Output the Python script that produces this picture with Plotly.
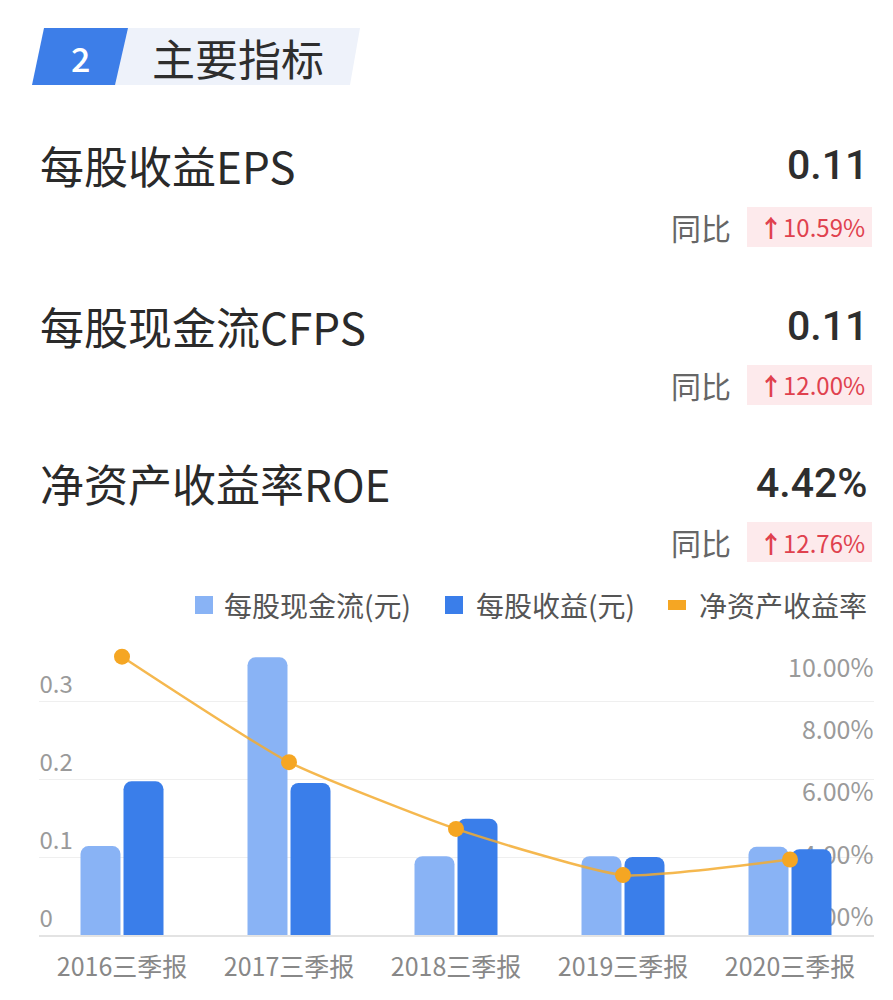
import plotly.graph_objects as go

# ---------------- data ----------------
categories = ['2016三季报', '2017三季报', '2018三季报', '2019三季报', '2020三季报']
cfps = [0.114, 0.356, 0.101, 0.101, 0.113]      # 每股现金流(元)
eps = [0.197, 0.195, 0.149, 0.100, 0.110]       # 每股收益(元)
roe = [10.92, 7.54, 5.40, 3.92, 4.42]           # 净资产收益率 (%)

left_ticks = [0, 0.1, 0.2, 0.3, 0.4]
left_ticktext = ['0', '0.1', '0.2', '0.3', '']
right_ticks = [2, 4, 6, 8, 10]
right_ticktext = ['2.00%', '4.00%', '6.00%', '8.00%', '10.00%']

series_names = ['每股现金流(元)', '每股收益(元)', '净资产收益率']

indicator_names = ['每股收益EPS', '每股现金流CFPS', '净资产收益率ROE']
indicator_values = ['0.11', '0.11', '4.42%']
indicator_yoy = ['10.59%', '12.00%', '12.76%']

section_no = '2'
section_title = '主要指标'

# ---------------- style ----------------
OFF = 8                      # default page body margin
W, H = 893 - 2 * OFF, 1000 - 2 * OFF
FONT = 'Noto Sans CJK SC'
NUMFONT = 'Roboto'
C_LIGHT = '#89B3F5'
C_DARK = '#3A7EEA'
C_ORANGE = '#F5A623'


def px(x):
    return (x - OFF) / W


def py(y):
    return 1 - (y - OFF) / H


fig = go.Figure()

fig.add_trace(go.Bar(
    x=categories, y=cfps, name=series_names[0],
    marker=dict(color=C_LIGHT, cornerradius=8, line=dict(width=0)),
    showlegend=False, yaxis='y'))
fig.add_trace(go.Bar(
    x=categories, y=eps, name=series_names[1],
    marker=dict(color=C_DARK, cornerradius=8, line=dict(width=0)),
    showlegend=False, yaxis='y'))
fig.add_trace(go.Scatter(
    x=categories, y=roe, name=series_names[2], yaxis='y2',
    mode='lines+markers',
    line=dict(color='rgba(243,172,48,0.85)', width=2.5, shape='spline', smoothing=0.5),
    marker=dict(color=C_ORANGE, size=16),
    cliponaxis=False, showlegend=False))

x_dom = [px(38.5), px(873.5)]
y_dom = [py(935), py(623)]

fig.update_layout(
    width=W, height=H,
    margin=dict(l=0, r=0, t=0, b=0),
    paper_bgcolor='white', plot_bgcolor='white',
    font=dict(family=FONT, color='#999999'),
    barmode='group', bargap=0.485, bargroupgap=0.07,
    xaxis=dict(domain=x_dom, type='category', range=[-0.5, 4.5], autorange=False,
               showgrid=False, showline=True, linecolor='#E3E3E3', linewidth=1.5,
               ticks='outside', ticklen=9, tickcolor='rgba(0,0,0,0)',
               tickfont=dict(size=25, color='#888888', family=FONT),
               fixedrange=True),
    # left value axis: labels just right of the left plot edge, above the grid lines
    yaxis=dict(domain=y_dom, range=[0, 0.4], tickvals=left_ticks, ticktext=left_ticktext,
               side='right', anchor='free', position=x_dom[0],
               ticklabelposition='outside top', showgrid=True, gridcolor='#EFEFEF', gridwidth=1.2,
               zeroline=False, showline=False, ticks='',
               tickfont=dict(size=24, color='#9A9A9A', family=FONT),
               layer='below traces'),
    # right percentage axis: labels right-aligned at the right plot edge
    yaxis2=dict(domain=y_dom, range=[2, 12], overlaying='y',
                side='left', anchor='free', position=x_dom[1],
                tickvals=right_ticks, ticktext=right_ticktext,
                ticklabelposition='outside top', showgrid=False, zeroline=False,
                showline=False, ticks='',
                tickfont=dict(size=25, color='#9A9A9A', family=FONT),
                layer='below traces'),
)

shapes = []
ann = []

# ---------- header ----------
shapes.append(dict(type='path', xref='paper', yref='paper',
                   path=f'M {px(115)},{py(85)} L {px(350)},{py(85)} L {px(360)},{py(28)} L {px(120)},{py(28)} Z',
                   fillcolor='#EEF2FA', line=dict(width=0), layer='below'))
shapes.append(dict(type='path', xref='paper', yref='paper',
                   path=f'M {px(32)},{py(85)} L {px(115)},{py(85)} L {px(128)},{py(28)} L {px(44)},{py(28)} Z',
                   fillcolor='#3D7EE8', line=dict(width=0)))
ann.append(dict(x=px(80), y=py(58), xref='paper', yref='paper', text=section_no,
                showarrow=False, xanchor='center', yanchor='middle',
                font=dict(family=FONT, size=34, color='white', weight=500)))
ann.append(dict(x=px(150), y=py(57), xref='paper', yref='paper', text=section_title,
                showarrow=False, xanchor='left', yanchor='middle',
                font=dict(family=FONT, size=43, color='#2E2E2E')))

# ---------- indicator rows ----------
row_title_y = [165, 326, 483]
row_sub_y = [227, 385, 542]
for name, val, yoy, ty, sy in zip(indicator_names, indicator_values, indicator_yoy, row_title_y, row_sub_y):
    ann.append(dict(x=px(38), y=py(ty), xref='paper', yref='paper', text=name,
                    showarrow=False, xanchor='left', yanchor='middle',
                    font=dict(family=FONT, size=44, color='#2A2A2A')))
    ann.append(dict(x=px(870), y=py(ty), xref='paper', yref='paper', text=val,
                    showarrow=False, xanchor='right', yanchor='middle',
                    font=dict(family=NUMFONT, size=41, color='#2E2E2E', weight=500)))
    shapes.append(dict(type='rect', xref='paper', yref='paper',
                       x0=px(747), x1=px(872), y0=py(sy + 20), y1=py(sy - 20),
                       fillcolor='#FDEAEC', line=dict(width=0), layer='below'))
    ann.append(dict(x=px(867), y=py(sy), xref='paper', yref='paper',
                    text='<b>↑</b>' + yoy,
                    showarrow=False, xanchor='right', yanchor='middle',
                    font=dict(family=FONT, size=24, color='#E0414E')))
    ann.append(dict(x=px(733), y=py(sy), xref='paper', yref='paper', text='同比',
                    showarrow=False, xanchor='right', yanchor='middle',
                    font=dict(family=FONT, size=30, color='#666666')))

# ---------- manual legend ----------
leg_y = 605
leg_items = [(series_names[0], C_LIGHT, 195, 222, 9),
             (series_names[1], C_DARK, 445, 474, 9),
             (series_names[2], C_ORANGE, 668, 697, 5)]
for name, col, sx, tx, hh in leg_items:
    shapes.append(dict(type='rect', xref='paper', yref='paper',
                       x0=px(sx), x1=px(sx + 18), y0=py(leg_y + hh), y1=py(leg_y - hh),
                       fillcolor=col, line=dict(width=0)))
    ann.append(dict(x=px(tx), y=py(leg_y), xref='paper', yref='paper', text=name,
                    showarrow=False, xanchor='left', yanchor='middle',
                    font=dict(family=FONT, size=28, color='#555555')))

fig.update_layout(shapes=shapes, annotations=ann)

fig.write_html('out.html')
